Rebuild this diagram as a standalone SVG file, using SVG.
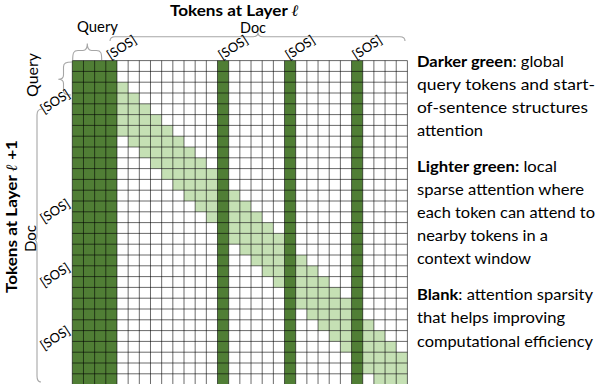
<svg xmlns="http://www.w3.org/2000/svg" width="598" height="384" viewBox="0 0 598 384">
<style>
.dark{fill:#507e35}
.light{fill:#c5e0b4}
.grid{fill:none;stroke:#000;stroke-opacity:0.65;stroke-width:0.9}
.brace{fill:none;stroke:#a6a6a6;stroke-width:1.1}
.lbl{font-family:Lato,"Liberation Sans",sans-serif;font-size:15px;fill:#000}
.sos{font-family:Lato,"Liberation Sans",sans-serif;font-size:13px;fill:#000}
.ttl{font-family:Lato,"Liberation Sans",sans-serif;font-size:16px;font-weight:bold;fill:#000}
.ell{font-family:"DejaVu Serif",serif;font-style:italic}
.txt{font-family:Lato,"Liberation Sans",sans-serif;font-size:16px;fill:#000}
.b{font-weight:bold}
</style>
<rect width="598" height="384" fill="#fff"/>
<g id="matrix">
<g id="local-band">
<rect class="light" x="116.98" y="82.2" width="11.17" height="10.8"/>
<rect class="light" x="116.98" y="93.0" width="22.34" height="10.8"/>
<rect class="light" x="116.98" y="103.8" width="33.51" height="10.8"/>
<rect class="light" x="116.98" y="114.6" width="44.68" height="10.8"/>
<rect class="light" x="116.98" y="125.4" width="55.85" height="10.8"/>
<rect class="light" x="128.15" y="136.2" width="55.85" height="10.8"/>
<rect class="light" x="139.32" y="147.0" width="55.85" height="10.8"/>
<rect class="light" x="150.49" y="157.8" width="55.85" height="10.8"/>
<rect class="light" x="161.66" y="168.6" width="55.85" height="10.8"/>
<rect class="light" x="172.83" y="179.4" width="55.85" height="10.8"/>
<rect class="light" x="184.0" y="190.2" width="55.85" height="10.8"/>
<rect class="light" x="195.17" y="201.0" width="55.85" height="10.8"/>
<rect class="light" x="206.34" y="211.8" width="55.85" height="10.8"/>
<rect class="light" x="217.51" y="222.6" width="55.85" height="10.8"/>
<rect class="light" x="228.68" y="233.4" width="55.85" height="10.8"/>
<rect class="light" x="239.85" y="244.2" width="55.85" height="10.8"/>
<rect class="light" x="251.02" y="255.0" width="55.85" height="10.8"/>
<rect class="light" x="262.19" y="265.8" width="55.85" height="10.8"/>
<rect class="light" x="273.36" y="276.6" width="55.85" height="10.8"/>
<rect class="light" x="284.53" y="287.4" width="55.85" height="10.8"/>
<rect class="light" x="295.7" y="298.2" width="55.85" height="10.8"/>
<rect class="light" x="306.87" y="309.0" width="55.85" height="10.8"/>
<rect class="light" x="318.04" y="319.8" width="55.85" height="10.8"/>
<rect class="light" x="329.21" y="330.6" width="55.85" height="10.8"/>
<rect class="light" x="340.38" y="341.4" width="55.85" height="10.8"/>
<rect class="light" x="351.55" y="352.2" width="55.85" height="10.8"/>
<rect class="light" x="362.72" y="363.0" width="44.68" height="10.8"/>
<rect class="light" x="373.89" y="373.8" width="33.51" height="10.8"/>
</g>
<g id="global-columns">
<rect class="dark" x="72.3" y="60.6" width="44.68" height="324"/>
<rect class="dark" x="217.51" y="60.6" width="11.17" height="324"/>
<rect class="dark" x="284.53" y="60.6" width="11.17" height="324"/>
<rect class="dark" x="351.55" y="60.6" width="11.17" height="324"/>
</g>
<path id="grid" class="grid" d="M72.3 60.6V384.6M83.47 60.6V384.6M94.64 60.6V384.6M105.81 60.6V384.6M116.98 60.6V384.6M128.15 60.6V384.6M139.32 60.6V384.6M150.49 60.6V384.6M161.66 60.6V384.6M172.83 60.6V384.6M184 60.6V384.6M195.17 60.6V384.6M206.34 60.6V384.6M217.51 60.6V384.6M228.68 60.6V384.6M239.85 60.6V384.6M251.02 60.6V384.6M262.19 60.6V384.6M273.36 60.6V384.6M284.53 60.6V384.6M295.7 60.6V384.6M306.87 60.6V384.6M318.04 60.6V384.6M329.21 60.6V384.6M340.38 60.6V384.6M351.55 60.6V384.6M362.72 60.6V384.6M373.89 60.6V384.6M385.06 60.6V384.6M396.23 60.6V384.6M407.4 60.6V384.6M72.3 60.6H407.4M72.3 71.4H407.4M72.3 82.2H407.4M72.3 93H407.4M72.3 103.8H407.4M72.3 114.6H407.4M72.3 125.4H407.4M72.3 136.2H407.4M72.3 147H407.4M72.3 157.8H407.4M72.3 168.6H407.4M72.3 179.4H407.4M72.3 190.2H407.4M72.3 201H407.4M72.3 211.8H407.4M72.3 222.6H407.4M72.3 233.4H407.4M72.3 244.2H407.4M72.3 255H407.4M72.3 265.8H407.4M72.3 276.6H407.4M72.3 287.4H407.4M72.3 298.2H407.4M72.3 309H407.4M72.3 319.8H407.4M72.3 330.6H407.4M72.3 341.4H407.4M72.3 352.2H407.4M72.3 363H407.4M72.3 373.8H407.4"/>
</g>
<g id="braces">
<path class="brace" d="M72.7 60C72.7 53 73.5 50.5 78 50.5L83 50.5C86 50.5 87.3 47.5 87.3 43.5C87.3 47.5 88.6 50.5 91.6 50.5L96.5 50.5C101 50.5 101.7 53 101.7 60"/>
<path class="brace" d="M110 41C110 38 111.5 36.7 115 36.7L253 36.7C256 36.7 258 35 258 32.5C258 35 260 36.7 263 36.7L400 36.7C403.5 36.7 405 38 405 41"/>
<path class="brace" d="M72 62C66 62 63.5 63 63.5 67L63.5 75C63.5 78 61 79.3 58.3 79.3C61 79.3 63.5 80.6 63.5 83.6L63.5 91C63.5 94 66 95 71 95"/>
<path class="brace" d="M42 109C38 109 37 111 37 115L37 236C37 239 36 240.5 35 240.5C36 240.5 37 242 37 245L37 376C37 380 38 382 41 382"/>
</g>
<g id="titles">
<text class="ttl" x="234.5" y="16" text-anchor="middle" textLength="129" lengthAdjust="spacingAndGlyphs">Tokens at Layer <tspan class="ell">ℓ</tspan></text>
<text class="ttl" transform="translate(16.5 216.5) rotate(-90)" text-anchor="middle" textLength="153" lengthAdjust="spacingAndGlyphs">Tokens at Layer <tspan class="ell">ℓ</tspan> +1</text>
</g>
<g id="axis-labels">
<text class="lbl" x="97.5" y="31.7" text-anchor="middle" textLength="41" lengthAdjust="spacingAndGlyphs">Query</text>
<text class="lbl" x="253" y="33.3" text-anchor="middle" textLength="26" lengthAdjust="spacingAndGlyphs">Doc</text>
<text class="lbl" transform="translate(38 75) rotate(-90)" text-anchor="middle" textLength="44" lengthAdjust="spacingAndGlyphs">Query</text>
<text class="lbl" transform="translate(35.8 238.5) rotate(-90)" text-anchor="middle" textLength="27" lengthAdjust="spacingAndGlyphs">Doc</text>
</g>
<g id="sos-labels">
<text class="sos" x="110.5" y="60" transform="rotate(-33 110.5 60)">[SOS]</text>
<text class="sos" x="222" y="60" transform="rotate(-33 222 60)">[SOS]</text>
<text class="sos" x="289" y="60" transform="rotate(-33 289 60)">[SOS]</text>
<text class="sos" x="356" y="60" transform="rotate(-33 356 60)">[SOS]</text>
<text class="sos" x="71" y="96.5" text-anchor="end" transform="rotate(-33 71 96.5)">[SOS]</text>
<text class="sos" x="71" y="206" text-anchor="end" transform="rotate(-33 71 206)">[SOS]</text>
<text class="sos" x="71" y="270" text-anchor="end" transform="rotate(-33 71 270)">[SOS]</text>
<text class="sos" x="71" y="333" text-anchor="end" transform="rotate(-33 71 333)">[SOS]</text>
</g>
<g id="legend">
<text class="txt" x="417" y="66.6" textLength="147" lengthAdjust="spacingAndGlyphs"><tspan class="b">Darker green</tspan>: global</text>
<text class="txt" x="417" y="89.8" textLength="178" lengthAdjust="spacingAndGlyphs">query tokens and start-</text>
<text class="txt" x="417" y="112.8" textLength="171" lengthAdjust="spacingAndGlyphs">of-sentence structures</text>
<text class="txt" x="417" y="135.6" textLength="66" lengthAdjust="spacingAndGlyphs">attention</text>
<text class="txt" x="417" y="171.6" textLength="140" lengthAdjust="spacingAndGlyphs"><tspan class="b">Lighter green:</tspan> local</text>
<text class="txt" x="417" y="194.8" textLength="167" lengthAdjust="spacingAndGlyphs">sparse attention where</text>
<text class="txt" x="417" y="218" textLength="178" lengthAdjust="spacingAndGlyphs">each token can attend to</text>
<text class="txt" x="417" y="241.2" textLength="131" lengthAdjust="spacingAndGlyphs">nearby tokens in a</text>
<text class="txt" x="417" y="264.4" textLength="114" lengthAdjust="spacingAndGlyphs">context window</text>
<text class="txt" x="417" y="300" textLength="176" lengthAdjust="spacingAndGlyphs"><tspan class="b">Blank</tspan>: attention sparsity</text>
<text class="txt" x="417" y="323.2" textLength="148" lengthAdjust="spacingAndGlyphs">that helps improving</text>
<text class="txt" x="417" y="346.6" textLength="176" lengthAdjust="spacingAndGlyphs">computational efficiency</text>
</g>
</svg>
